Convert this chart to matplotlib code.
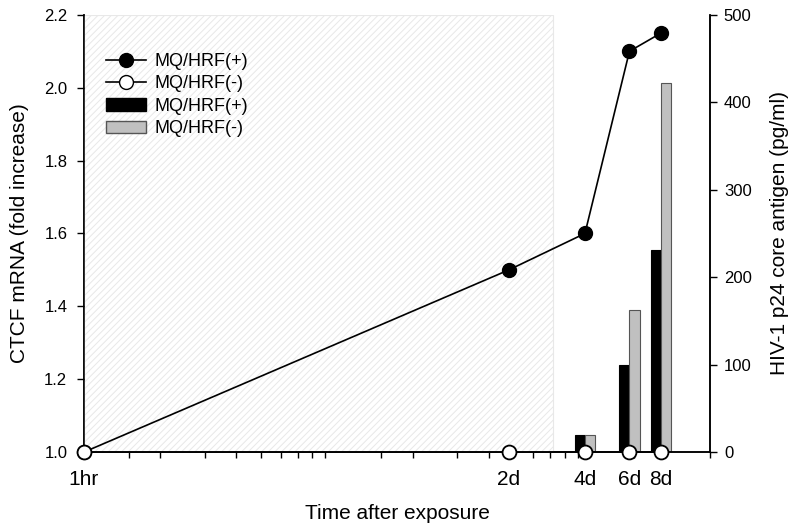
import matplotlib
matplotlib.use('Agg')
import matplotlib.pyplot as plt
from matplotlib.ticker import FixedLocator, LogLocator, NullFormatter, FixedFormatter
from matplotlib.lines import Line2D
from matplotlib.patches import Patch

plt.rcParams['font.family'] = ['Liberation Sans', 'DejaVu Sans']
plt.rcParams['hatch.linewidth'] = 0.7

# time points in hours (1hr, 2d, 4d, 6d, 8d)
hours = [1, 48, 96, 144, 192]
tick_labels = ['1hr', '2d', '4d', '6d', '8d']
ctcf_pos = [1.0, 1.5, 1.6, 2.1, 2.15]
ctcf_neg = [1.0, 1.0, 1.0, 1.0, 1.0]

# p24 antigen bars
bar_hours = [96, 144, 192]
p24_pos = [20, 100, 231]
p24_neg = [20, 163, 422]

fig = plt.figure(figsize=(8, 5.3), dpi=100)
ax = fig.add_axes([0.105, 0.147, 0.7825, 0.825])
ax2 = ax.twinx()
ax.set_zorder(ax2.get_zorder() + 1)
ax.patch.set_visible(False)

# shaded (hatched) period
ax.axvspan(1, 72, facecolor='white', edgecolor='#e8e8e8', hatch='/////',
           linewidth=0.8, zorder=0)

# bars on the right axis, half-width in log decades
hw = 0.04
for h, vp, vn in zip(bar_hours, p24_pos, p24_neg):
    left = h * 10 ** -hw
    ax2.bar(left, vp, width=h - left, align='edge', color='black',
            edgecolor='black', linewidth=0.8)
    ax2.bar(h, vn, width=h * 10 ** hw - h, align='edge', color='#c0c0c0',
            edgecolor='#555555', linewidth=0.8)

ax.plot(hours, ctcf_pos, '-o', color='black', markersize=10, lw=1.2,
        markerfacecolor='black', clip_on=False, zorder=5)
ax.plot(hours, ctcf_neg, '-o', color='black', markersize=10, lw=1.2,
        markerfacecolor='white', markeredgewidth=1.3, clip_on=False, zorder=6)

ax.set_xscale('log')
ax.set_xlim(1, 300)
ax.set_ylim(1.0, 2.2)
ax2.set_ylim(0, 500)
ax2.set_xlim(1, 300)

ax.xaxis.set_major_locator(FixedLocator(hours))
ax.xaxis.set_major_formatter(FixedFormatter(tick_labels))
ax.xaxis.set_minor_locator(LogLocator(base=10, subs=[1.5, 2, 3, 4, 5, 6, 7, 8, 9]))
ax.xaxis.set_minor_formatter(NullFormatter())
ax.set_yticks([1.0, 1.2, 1.4, 1.6, 1.8, 2.0, 2.2])
ax2.set_yticks([0, 100, 200, 300, 400, 500])

ax.tick_params(axis='x', which='both', direction='out', length=4, width=1,
               pad=9, labelsize=15)
ax.tick_params(axis='y', direction='out', length=5, width=1, pad=7,
               labelsize=12)
ax2.tick_params(axis='y', direction='out', length=5, width=1, pad=5,
                labelsize=12)

for a in (ax, ax2):
    a.spines['top'].set_visible(False)
    for s in ('left', 'right', 'bottom'):
        a.spines[s].set_linewidth(1.1)

ax.set_ylabel('CTCF mRNA (fold increase)', fontsize=15, labelpad=11)
ax2.set_ylabel('HIV-1 p24 core antigen (pg/ml)', fontsize=15, labelpad=13)
ax.set_xlabel('Time after exposure', fontsize=15, labelpad=11)

handles = [
    Line2D([], [], color='black', marker='o', markersize=10,
           markerfacecolor='black', lw=1.2),
    Line2D([], [], color='black', marker='o', markersize=10,
           markerfacecolor='white', lw=1.2),
    Patch(facecolor='black', edgecolor='black'),
    Patch(facecolor='#c0c0c0', edgecolor='#555555'),
]
labels = ['MQ/HRF(+)', 'MQ/HRF(-)', 'MQ/HRF(+)', 'MQ/HRF(-)']
fig.legend(handles, labels, loc='upper left',
           bbox_to_anchor=(97 / 800, 1 - 44 / 530), frameon=False,
           fontsize=13, handlelength=2.2, handletextpad=0.5,
           labelspacing=0.3, borderpad=0)

fig.savefig('out.png', dpi=100)
